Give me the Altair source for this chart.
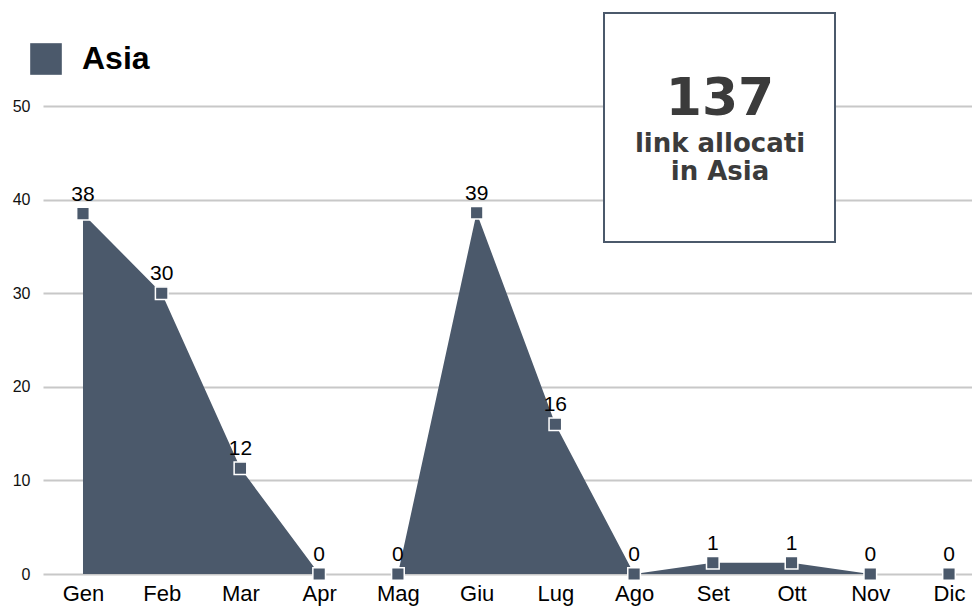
import altair as alt
import pandas as pd

# ---- data ----
mesi = ["Gen", "Feb", "Mar", "Apr", "Mag", "Giu", "Lug", "Ago", "Set", "Ott", "Nov", "Dic"]
valori = [38.5, 30, 11.3, 0, 0, 38.6, 16, 0, 1.2, 1.2, 0, 0]
etichette = [38, 30, 12, 0, 0, 39, 16, 0, 1, 1, 0, 0]
serie = "Asia"
y_ticks = [0, 10, 20, 30, 40, 50]
box_righe = ["link allocati", "in Asia"]

COLOR = "#4b596b"
TXT = "#3b3b3b"
FONT = "Liberation Sans"

df = pd.DataFrame({"mese": mesi, "valore": valori, "etichetta": etichette, "serie": [serie] * len(mesi)})

x = alt.X(
    "mese:N",
    sort=mesi,
    scale=alt.Scale(type="point", padding=0.40, align=0.635),
    axis=alt.Axis(title=None, labelFontSize=22, labelFont=FONT, labelPadding=9, ticks=False,
                  domain=False, grid=False, labelAngle=0, labelColor="#000"),
)
y = alt.Y(
    "valore:Q",
    scale=alt.Scale(domain=[0, 50], nice=False),
    axis=alt.Axis(values=y_ticks, title=None, labelFontSize=16, labelFont=FONT, labelPadding=13,
                  ticks=False, domain=False, grid=True, gridColor="#c8c8c8", gridWidth=2,
                  labelColor="#111"),
)

base = alt.Chart(df)

area = base.mark_area(color=COLOR, opacity=1, interpolate="linear").encode(
    x=x, y=y,
    color=alt.Color(
        "serie:N",
        scale=alt.Scale(range=[COLOR]),
        legend=alt.Legend(title=None, orient="none", legendX=-13, legendY=-63,
                          symbolType="square", symbolSize=1000, symbolStrokeWidth=0,
                          symbolFillColor=COLOR, symbolOpacity=1,
                          labelFontSize=32, labelFontWeight="bold", labelFont=FONT,
                          labelColor="#000", labelOffset=20),
    ),
)

punti = base.mark_square(size=160, color=COLOR, stroke="white", strokeWidth=1.5, opacity=1).encode(
    x=x, y=y
)

testi = base.mark_text(dy=-13, baseline="alphabetic", fontSize=21, font=FONT, color="#000").encode(
    x=x, y=y, text="etichetta:Q"
)

box = alt.Chart(pd.DataFrame({"k": [0]})).mark_rect(fill="white", stroke=COLOR, strokeWidth=2).encode(
    x=alt.value(561), x2=alt.value(792), y=alt.value(-93), y2=alt.value(136)
)

totale = alt.Chart(pd.DataFrame({"t": [str(sum(etichette))]})).mark_text(
    font="DejaVu Sans", fontWeight="bold", fontSize=52, color=TXT, align="center", baseline="alphabetic"
).encode(text="t:N", x=alt.value(677), y=alt.value(9))

riga1 = alt.Chart(pd.DataFrame({"t": [box_righe[0]]})).mark_text(
    font="DejaVu Sans", fontWeight="bold", fontSize=26, color=TXT, align="center", baseline="alphabetic"
).encode(text="t:N", x=alt.value(677), y=alt.value(46))

riga2 = alt.Chart(pd.DataFrame({"t": [box_righe[1]]})).mark_text(
    font="DejaVu Sans", fontWeight="bold", fontSize=26, color=TXT, align="center", baseline="alphabetic"
).encode(text="t:N", x=alt.value(677), y=alt.value(74))

chart = alt.layer(area, punti, testi, box, totale, riga1, riga2).properties(
    width=929,
    height=468,
    autosize=alt.AutoSizeParams(type="none"),
    padding={"left": 35, "top": 98, "right": 0, "bottom": 40},
).configure_view(stroke=None)

chart.save("out.html", embed_options={"renderer": "svg", "actions": False})
